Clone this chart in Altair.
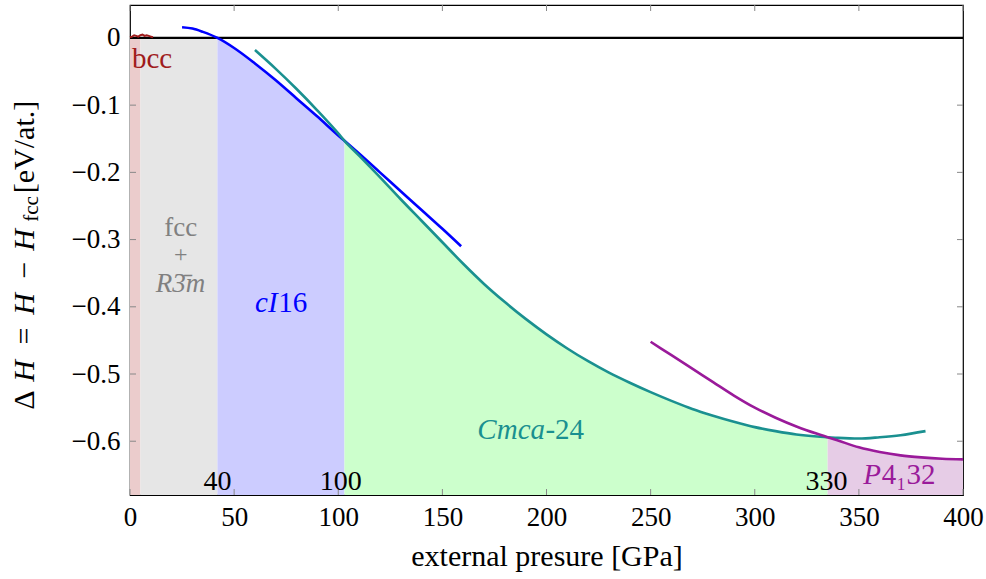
import altair as alt
import pandas as pd

FONT = "Liberation Serif"

# ---------------- data ----------------
ci16_P = [25, 30, 35, 42, 50, 60, 70, 80, 90, 100, 103, 110, 120, 130, 140, 150, 159]
ci16_H = [0.016, 0.014, 0.009, 0.0, -0.015, -0.038, -0.063, -0.090, -0.117, -0.145,
          -0.153, -0.172, -0.200, -0.228, -0.256, -0.284, -0.310]

cmca_P = [60, 70, 80, 90, 100, 103, 110, 120, 130, 140, 150, 160, 170, 180, 190, 200,
          210, 220, 230, 240, 250, 260, 270, 280, 290, 300, 310, 320, 330, 335, 340,
          350, 360, 370, 382]
cmca_H = [-0.018, -0.046, -0.076, -0.108, -0.142, -0.153, -0.175, -0.207, -0.240, -0.272,
          -0.304, -0.336, -0.366, -0.393, -0.418, -0.441, -0.462, -0.481, -0.498, -0.513,
          -0.527, -0.540, -0.552, -0.562, -0.571, -0.579, -0.585, -0.590, -0.593, -0.594,
          -0.595, -0.596, -0.594, -0.591, -0.585]

p4_P = [250, 260, 270, 280, 290, 300, 310, 320, 330, 335, 340, 350, 360, 370, 380, 390, 400]
p4_H = [-0.452, -0.472, -0.492, -0.512, -0.532, -0.550, -0.565, -0.578, -0.589, -0.594,
        -0.599, -0.609, -0.616, -0.621, -0.624, -0.626, -0.627]

bcc_P = [0, 1, 2, 3, 4, 5, 6, 7, 8, 9, 10, 11]
bcc_H = [0.001, 0.002, 0.004, 0.003, 0.002, 0.004, 0.005, 0.003, 0.004, 0.003, 0.002, 0.001]

# phase boundaries [GPa]
b_bcc, b_fcc, b_ci16, b_cmca, b_end = 5, 42, 103, 335, 400

x_ticks = [0, 50, 100, 150, 200, 250, 300, 350, 400]
y_ticks = [-0.6, -0.5, -0.4, -0.3, -0.2, -0.1, 0]
Y_MIN, Y_MAX = -0.68, 0.049

# ---------------- style ----------------
W, HT = 833, 490
C_BLUE, C_TEAL, C_VIOL, C_BCC = "#0000ff", "#1a9090", "#9a1a9a", "#a01c1c"
TICK = "#888888"

xscale = alt.Scale(domain=[0, 400], nice=False, zero=False)
yscale = alt.Scale(domain=[Y_MIN, Y_MAX], nice=False, zero=False)

xaxis = alt.Axis(values=x_ticks, ticks=False, domain=False, grid=False, labelFlush=False,
                 labelFont=FONT, labelFontSize=27, labelPadding=9, labelColor="black",
                 labelOverlap=False,
                 title="external presure [GPa]", titleFont=FONT, titleFontSize=30,
                 titleFontWeight="normal", titleColor="black", titleY=70,
                 titleBaseline="alphabetic")
yaxis = alt.Axis(values=y_ticks, ticks=False, domain=False, grid=False, labelFlush=False,
                 labelFont=FONT, labelFontSize=27, labelPadding=10, labelColor="black",
                 labelOverlap=False, labelAlign="right", labelBaseline="middle",
                 labelExpr="datum.value == 0 ? '0' : replace(format(datum.value, '.1f'), '-', '\u2212')",
                 title=None)

xenc = alt.X("P:Q", scale=xscale, axis=xaxis)
yenc = alt.Y("H:Q", scale=yscale, axis=yaxis)


def df(P, H):
    return pd.DataFrame({"P": P, "H": H})


def sub(P, H, lo, hi):
    pts = [(p, h) for p, h in zip(P, H) if lo <= p <= hi]
    return df([p for p, _ in pts], [h for _, h in pts])


def fill(data, color):
    return alt.Chart(data).mark_area(color=color, opacity=1, interpolate="monotone").encode(
        x=xenc, y=yenc, y2=alt.datum(Y_MIN))


layers = [
    fill(df([0, b_bcc], [0.0, 0.0]), "#ebcccc"),
    fill(df([b_bcc, b_fcc], [0.0, 0.0]), "#e6e6e6"),
    fill(sub(ci16_P, ci16_H, b_fcc, b_ci16), "#ccccff"),
    fill(sub(cmca_P, cmca_H, b_ci16, b_cmca), "#ccffcc"),
    fill(sub(p4_P, p4_H, b_cmca, b_end), "#e6cce6"),
]

# inward, mirrored ticks
xt = pd.DataFrame({"P": x_ticks})
yt = pd.DataFrame({"H": y_ticks})
layers += [
    alt.Chart(xt).mark_rule(color=TICK, strokeWidth=1).encode(x=xenc, y=alt.value(HT), y2=alt.value(HT - 6)),
    alt.Chart(xt).mark_rule(color=TICK, strokeWidth=1).encode(x=xenc, y=alt.value(0), y2=alt.value(6)),
    alt.Chart(yt).mark_rule(color=TICK, strokeWidth=1).encode(y=yenc, x=alt.value(0), x2=alt.value(6)),
    alt.Chart(yt).mark_rule(color=TICK, strokeWidth=1).encode(y=yenc, x=alt.value(W - 6), x2=alt.value(W)),
]

# zero line
layers.append(alt.Chart(pd.DataFrame({"H": [0.0]})).mark_rule(color="black", strokeWidth=2.2).encode(y=yenc))

# curves
layers += [
    alt.Chart(df(bcc_P, bcc_H)).mark_line(color=C_BCC, strokeWidth=2).encode(x=xenc, y=yenc),
    alt.Chart(df(ci16_P, ci16_H)).mark_line(color=C_BLUE, strokeWidth=2.6, interpolate="monotone").encode(x=xenc, y=yenc),
    alt.Chart(df(cmca_P, cmca_H)).mark_line(color=C_TEAL, strokeWidth=2.6, interpolate="monotone").encode(x=xenc, y=yenc),
    alt.Chart(df(p4_P, p4_H)).mark_line(color=C_VIOL, strokeWidth=2.6, interpolate="monotone").encode(x=xenc, y=yenc),
]

# annotations: (P, H, text, color, size, style, align)
labels = [
    (10.6, -0.045, "bcc", C_BCC, 29, "normal", "center"),
    (24.4, -0.2945, "fcc", "#808080", 27, "normal", "center"),
    (24.4, -0.333, "+", "#808080", 24, "normal", "center"),
    (24.2, -0.3775, "R3\u0304m", "#808080", 27, "italic", "center"),
    (70.9, -0.407, "cI", C_BLUE, 29, "italic", "right"),
    (71.2, -0.407, "16", C_BLUE, 29, "normal", "left"),
    (199.3, -0.596, "Cmca", C_TEAL, 29, "italic", "right"),
    (199.5, -0.596, "-24", C_TEAL, 29, "normal", "left"),
    (360.6, -0.664, "P", C_VIOL, 29, "italic", "right"),
    (361.0, -0.664, "4\u208132", C_VIOL, 29, "normal", "left"),
    (42.0, -0.673, "40", "black", 28, "normal", "center"),
    (101.2, -0.673, "100", "black", 28, "normal", "center"),
    (334.4, -0.673, "330", "black", 28, "normal", "center"),
]
for P, H, t, c, s, st, al in labels:
    layers.append(
        alt.Chart(pd.DataFrame({"P": [P], "H": [H], "t": [t]})).mark_text(
            font=FONT, fontSize=s, fontStyle=st, color=c, align=al, baseline="alphabetic"
        ).encode(x=xenc, y=yenc, text="t:N")
    )

# rotated y-axis title pieces: (text, center y px from plot top, x px, size, style)
ytitle = [
    ("\u0394", 395, -96.5, 30, "normal"),
    ("H", 366, -96.5, 30, "italic"),
    ("=", 331, -96.5, 30, "normal"),
    ("H", 299, -96.5, 30, "italic"),
    ("\u2212", 265, -96.5, 30, "normal"),
    ("H", 235, -96.5, 30, "italic"),
    ("fcc", 204, -92, 21, "normal"),
    ("[eV/at.]", 142, -96.5, 30, "normal"),
]
one = pd.DataFrame({"a": [0]})
for t, yy, xx, s, st in ytitle:
    layers.append(
        alt.Chart(one).mark_text(font=FONT, fontSize=s, fontStyle=st, color="black",
                                 angle=270, align="center", baseline="alphabetic").encode(
            x=alt.value(xx), y=alt.value(yy), text=alt.value(t))
    )

chart = alt.layer(*layers).properties(
    width=W, height=HT,
    autosize=alt.AutoSizeParams(type="none"),
    padding={"left": 130, "top": 5, "right": 23, "bottom": 84},
    background="white",
).configure_view(stroke="black", strokeWidth=1.2)

chart.save("out.html", embed_options={"renderer": "svg", "actions": False})
